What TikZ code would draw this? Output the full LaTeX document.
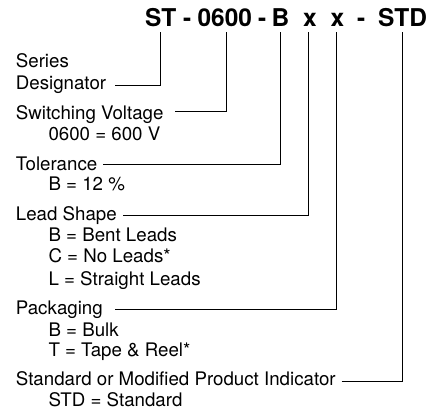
\documentclass[tikz,border=0pt]{standalone}
\usepackage{fontspec}
\setmainfont{TeX Gyre Heros}
\begin{document}
\begin{tikzpicture}[x=1pt,y=-1pt,
  title/.style={anchor=base west, inner sep=0pt, font=\fontsize{24.5}{29}\bfseries\selectfont},
  lbl/.style={anchor=base west, inner sep=0pt, font=\fontsize{18.7}{22}\selectfont},
  conn/.style={line width=1pt, line join=miter}]
\useasboundingbox (0,0) rectangle (441,412);
% title parts
\node[title] (pST) at (145,26.7) {ST};
\node[title] (d1) at (183,26.7) {-};
\node[title] (p0600) at (197.4,26.7) {0600};
\node[title] (d2) at (257.8,26.7) {-};
\node[title] (pB) at (271.5,26.7) {B};
\node[title] (px1) at (303,26.7) {x};
\node[title] (px2) at (330.4,26.7) {x};
\node[title] (d3) at (357,26.7) {-};
\node[title] (pSTD) at (378,26.7) {STD};
% labels
\node[lbl] (series) at (15.7,67.3) {Series};
\node[lbl] (desig) at (15.7,89.3) {Designator};
\node[lbl] (sw) at (15.7,119) {Switching Voltage};
\node[lbl] (sw1) at (48.3,140) {0600 = 600 V};
\node[lbl] (tol) at (15.7,170) {Tolerance};
\node[lbl] (tol1) at (48.3,190.7) {B = 12 \%};
\node[lbl] (lead) at (15.7,220.7) {Lead Shape};
\node[lbl] (lead1) at (48.3,241.7) {B = Bent Leads};
\node[lbl] (lead2) at (48.3,262.7) {C = No Leads*};
\node[lbl] (lead3) at (48.3,285) {L = Straight Leads};
\node[lbl] (pack) at (15.7,314.3) {Packaging};
\node[lbl] (pack1) at (48.3,336) {B = Bulk};
\node[lbl] (pack2) at (48.3,356.7) {T = Tape \& Reel*};
\node[lbl] (std) at (15.7,385) {Standard or Modified Product Indicator};
\node[lbl] (std1) at (48.3,406.7) {STD = Standard};
% connector ends
\coordinate (s1) at (115,85);    \coordinate (t1) at (160.7,31.7);
\coordinate (s2) at (175,111.7); \coordinate (t2) at (226,31.7);
\coordinate (s3) at (103,164.3); \coordinate (t3) at (280.7,31.7);
\coordinate (s4) at (123,215.7); \coordinate (t4) at (308.8,31.7);
\coordinate (s5) at (115,309);   \coordinate (t5) at (336.7,31.7);
\coordinate (s6) at (341.7,381.7); \coordinate (t6) at (402.8,31.7);
\draw[conn] (s1) -| (t1);
\draw[conn] (s2) -| (t2);
\draw[conn] (s3) -| (t3);
\draw[conn] (s4) -| (t4);
\draw[conn] (s5) -| (t5);
\draw[conn] (s6) -| (t6);
\end{tikzpicture}
\end{document}
